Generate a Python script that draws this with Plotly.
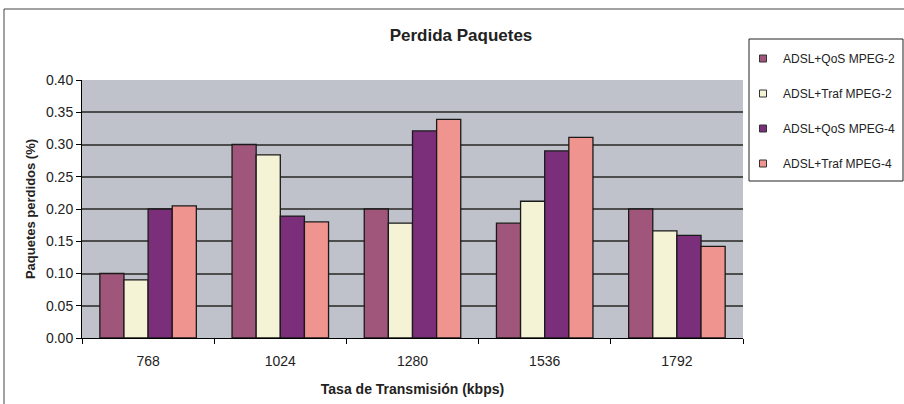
import plotly.graph_objects as go

categories = ["768", "1024", "1280", "1536", "1792"]
qos_mpeg2 = [0.10, 0.30, 0.20, 0.178, 0.20]
traf_mpeg2 = [0.09, 0.284, 0.178, 0.212, 0.166]
qos_mpeg4 = [0.20, 0.189, 0.321, 0.29, 0.159]
traf_mpeg4 = [0.205, 0.18, 0.339, 0.311, 0.142]

series_names = ["ADSL+QoS MPEG-2", "ADSL+Traf MPEG-2", "ADSL+QoS MPEG-4", "ADSL+Traf MPEG-4"]
series_values = [qos_mpeg2, traf_mpeg2, qos_mpeg4, traf_mpeg4]
series_colors = ["#A0557A", "#F5F3D5", "#7B2F7B", "#F09490"]

y_ticks = [0.0, 0.05, 0.10, 0.15, 0.20, 0.25, 0.30, 0.35, 0.40]
y_tick_labels = ["0.00", "0.05", "0.10", "0.15", "0.20", "0.25", "0.30", "0.35", "0.40"]

FONT = "Liberation Sans, Arial, sans-serif"
W, H = 904, 404
ML, MR, MT, MB = 82, 161, 80, 66
PW, PH = W - ML - MR, H - MT - MB

def px_x(x):
    return (x - ML) / PW

def px_y(y):
    return 1 - (y - MT) / PH

fig = go.Figure()
for i, (name, vals, col) in enumerate(zip(series_names, series_values, series_colors)):
    fig.add_trace(go.Bar(
        x=categories, y=vals, name=name, showlegend=False,
        marker=dict(color=col, line=dict(color="#1a1a1a", width=1.3)),
    ))
    fig.add_trace(go.Scatter(
        x=[None], y=[None], mode="markers", name=name, legendgroup=f"g{i}",
        marker=dict(symbol="square", size=7, color=col, line=dict(color="#333333", width=1)),
    ))

# outer frame
fig.add_shape(type="rect", xref="paper", yref="paper",
              x0=px_x(4), x1=px_x(910), y0=px_y(410), y1=px_y(9),
              line=dict(color="#444444", width=1), fillcolor="rgba(0,0,0,0)", layer="below")
# legend box
fig.add_shape(type="rect", xref="paper", yref="paper",
              x0=px_x(749), x1=px_x(903), y0=px_y(181), y1=px_y(39),
              line=dict(color="#222222", width=1), fillcolor="white", layer="below")

fig.update_layout(
    width=W, height=H,
    margin=dict(l=ML, r=MR, t=MT, b=MB, autoexpand=False),
    paper_bgcolor="white",
    plot_bgcolor="#BFC2CA",
    barmode="group",
    bargap=0.27,
    bargroupgap=0,
    font=dict(family=FONT, size=12, color="#222222"),
    title=dict(text="<b>Perdida Paquetes</b>", xref="container", x=461 / W, xanchor="center",
               yref="container", y=1 - 35 / H, yanchor="middle",
               font=dict(size=17, color="#222222")),
    legend=dict(x=px_x(743), xanchor="left", y=px_y(44), yanchor="top",
                bgcolor="rgba(0,0,0,0)", borderwidth=0,
                font=dict(size=12, color="#222222"),
                tracegroupgap=16, itemwidth=30),
    xaxis=dict(
        type="category", tickson="boundaries", ticks="outside", ticklen=5,
        tickcolor="black", showline=True, linecolor="black", linewidth=1,
        showgrid=False, tickfont=dict(size=14), ticklabelstandoff=10,
        title=dict(text="<b>Tasa de Transmisión (kbps)</b>", font=dict(size=14), standoff=16),
    ),
    yaxis=dict(
        range=[0, 0.40], tickvals=y_ticks, ticktext=y_tick_labels,
        ticks="outside", ticklen=5, tickcolor="black",
        showline=True, linecolor="black", linewidth=1,
        showgrid=True, gridcolor="#4d4d4d", gridwidth=1.5,
        zeroline=False, tickfont=dict(size=14),
        title=dict(text="<b>Paquetes perdidos (%)</b>", font=dict(size=13), standoff=7),
    ),
)

fig.write_html("out.html", config={"displayModeBar": False},
               post_script="document.body.style.margin='0';")
